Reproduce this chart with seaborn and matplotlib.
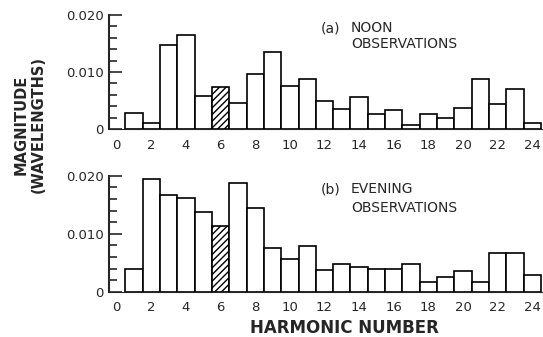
import numpy as np
import pandas as pd
import matplotlib
matplotlib.use("Agg")
import matplotlib.pyplot as plt
from matplotlib.ticker import MultipleLocator
import seaborn as sns

harmonics = list(range(1, 25))
noon = [0.0029, 0.0011, 0.0148, 0.0165, 0.0058, 0.0073, 0.0046, 0.0097,
        0.0136, 0.0076, 0.0088, 0.0049, 0.0036, 0.0057, 0.0027, 0.0033,
        0.0007, 0.0026, 0.0020, 0.0037, 0.0088, 0.0044, 0.0070, 0.0010]
evening = [0.0040, 0.0194, 0.0167, 0.0162, 0.0138, 0.0114, 0.0187, 0.0145,
           0.0075, 0.0056, 0.0079, 0.0037, 0.0048, 0.0043, 0.0039, 0.0039,
           0.0048, 0.0017, 0.0025, 0.0036, 0.0016, 0.0066, 0.0066, 0.0028]
hatched_harmonic = 6
x_ticks = list(range(0, 25, 2))
y_ticks = [0, 0.010, 0.020]
y_tick_labels = ["0", "0.010", "0.020"]
panel_tags = ["(a)", "(b)"]
panel_first = ["NOON", "EVENING"]
panel_second = "OBSERVATIONS"

sns.set_style("ticks")
plt.rcParams["font.family"] = ["DejaVu Sans"]

fig = plt.figure(figsize=(5.43, 3.37), dpi=100)
ax_top = fig.add_axes([0.2007, 0.617, 0.797, 0.3383])
ax_bot = fig.add_axes([0.2007, 0.1344, 0.797, 0.344])

panels = [(ax_top, noon, 0, 0.886, 0.746), (ax_bot, evening, 1, 0.885, 0.72)]
for ax, vals, i, y1, y2 in panels:
    df = pd.DataFrame({"harmonic": harmonics, "magnitude": vals})
    sns.barplot(data=df, x="harmonic", y="magnitude", native_scale=True,
                color="white", edgecolor="black", linewidth=1.2, width=1.0,
                saturation=1, ax=ax)
    for p in ax.patches:
        cx = p.get_x() + p.get_width() / 2
        if abs(cx - hatched_harmonic) < 0.1:
            p.set_hatch("/////")
    ax.set_xlim(-0.45, 24.55)
    ax.set_ylim(0, 0.020)
    ax.set_xticks(x_ticks)
    ax.set_xticklabels([str(t) for t in x_ticks], fontsize=9.5)
    ax.set_yticks(y_ticks)
    ax.set_yticklabels(y_tick_labels, fontsize=9.5)
    ax.yaxis.set_minor_locator(MultipleLocator(0.002))
    ax.tick_params(axis="y", which="major", direction="in", length=9, width=1.2, pad=4)
    ax.tick_params(axis="y", which="minor", direction="in", length=6, width=1.2)
    ax.tick_params(axis="x", length=0, pad=7)
    sns.despine(ax=ax)
    ax.spines["left"].set_linewidth(1.5)
    ax.spines["bottom"].set_linewidth(0.8)
    ax.set_xlabel("")
    ax.set_ylabel("")
    ax.text(0.49, y1, panel_tags[i], transform=ax.transAxes, fontsize=10,
            va="center", ha="left")
    ax.text(0.559, y1, panel_first[i], transform=ax.transAxes, fontsize=10,
            va="center", ha="left")
    ax.text(0.559, y2, panel_second, transform=ax.transAxes, fontsize=10,
            va="center", ha="left")

fig.text(0.055, 0.63, "MAGNITUDE\n(WAVELENGTHS)", rotation=90, ha="center",
         va="center", fontsize=10.5, fontweight="bold", linespacing=1.2)
fig.text(0.634, 0.027, "HARMONIC NUMBER", ha="center", va="center",
         fontsize=12, fontweight="bold")

fig.savefig("out.png", dpi=100)
